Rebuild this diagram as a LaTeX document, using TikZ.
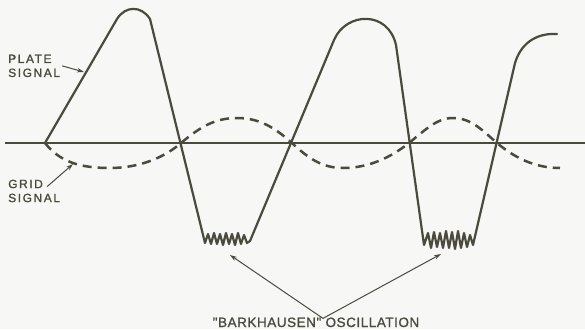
\documentclass[tikz,border=0pt]{standalone}
\usepackage{fontspec}
\setmainfont{Liberation Sans}
\newfontfamily\lettering[LetterSpace=13,FakeBold=1.2]{Liberation Sans}
\newfontfamily\bigletter[LetterSpace=4,FakeBold=1.2]{Liberation Sans}
\usetikzlibrary{arrows.meta,calc}
\definecolor{ink}{HTML}{4A4A3E}
\definecolor{paper}{HTML}{F7F7F5}
\tikzset{
  signal/.style={draw=ink, line width=2.2pt, line join=round, line cap=round},
  gridsig/.style={draw=ink, line width=2.5pt, dash pattern=on 9pt off 6pt},
  axisline/.style={draw=ink, line width=1.2pt},
  pointer/.style={draw=ink, line width=1pt, -{Stealth[length=7pt,width=4.5pt]}},
  lbl/.style={text=ink, font=\lettering\fontsize{12}{14}\selectfont, inner sep=0pt, align=left},
  biglbl/.style={text=ink, font=\bigletter\fontsize{13.5}{16}\selectfont, inner sep=0pt}
}
\begin{document}
\begin{tikzpicture}[x=1pt,y=-1pt]
\fill[paper] (0,0) rectangle (585,329);
\useasboundingbox (0,0) rectangle (585,329);

% axis
\draw[axisline] (5,143) -- (585,143);

% grid signal (dashed)
\draw[gridsig] (45,143) .. controls (60,162) and (80,168) .. (110,168)
  .. controls (140,168) and (165,157) .. (181,143)
  .. controls (200,127) and (215,118) .. (237,118)
  .. controls (260,118) and (275,128) .. (292,143)
  .. controls (308,158) and (322,168) .. (343,168)
  .. controls (368,168) and (390,158) .. (409,143)
  .. controls (425,130) and (437,118) .. (453,118)
  .. controls (472,118) and (484,132) .. (497,143)
  .. controls (515,158) and (535,168) .. (560,168);

% plate signal
\draw[signal] (45,143) -- (117,19) .. controls (125,6) and (141,5) .. (150,19)
  -- (205,243)
  -- (208,234) -- (211,244) -- (214,233) -- (217,244) -- (220,234) -- (223,245)
  -- (226,233) -- (229,244) -- (232,234) -- (235,245) -- (238,233) -- (241,244)
  -- (244,235) -- (247,243) -- (250,241)
  -- (334,40) .. controls (346,12) and (388,10) .. (396,45)
  -- (424,245)
  -- (428,233) -- (431,248) -- (434,232) -- (437,247) -- (440,233) -- (443,248)
  -- (446,231) -- (449,248) -- (452,232) -- (455,249) -- (458,231) -- (461,248)
  -- (464,233) -- (467,247) -- (470,235) -- (473,245)
  -- (515,63) .. controls (522,40) and (540,33) .. (557,34);

% labels
\node[lbl, anchor=north west] (plate) at (8,54.5) {PLATE\\SIGNAL};
\node[lbl, anchor=north west] (grid) at (8,179.5) {GRID\\SIGNAL};
\node[biglbl, anchor=base] (bark) at (316,327) {"BARKHAUSEN" OSCILLATION};

\coordinate (platetip) at (84,72);
\coordinate (gridtip) at (73,164);
\coordinate (barkA) at (230,255);
\coordinate (barkB) at (441,254);

\draw[pointer] ([xshift=2pt]plate.east) -- (platetip);
\draw[pointer] ($(grid.north east)+(-13,7)$) -- (gridtip);
\draw[pointer] ([xshift=7pt,yshift=-1pt]bark.north) -- (barkA);
\draw[pointer] ([xshift=7pt,yshift=-1pt]bark.north) -- (barkB);
\end{tikzpicture}
\end{document}
